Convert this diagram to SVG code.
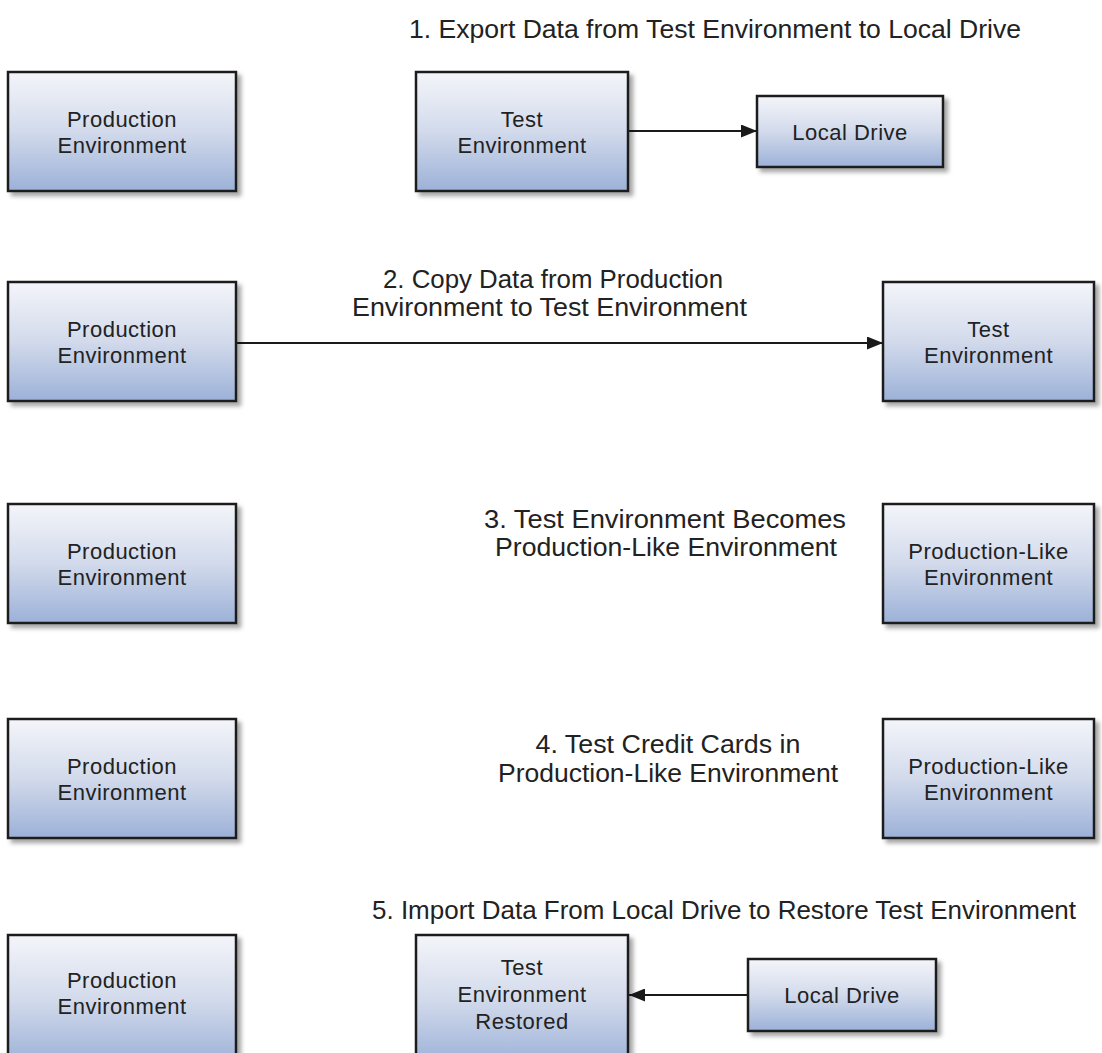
<svg xmlns="http://www.w3.org/2000/svg" width="1102" height="1053" viewBox="0 0 1102 1053">
<style>
.box{fill:url(#g);stroke:#1e1e1e;stroke-width:2.5;filter:url(#sh)}
.nt{font-family:"Liberation Sans",Arial,sans-serif;font-size:22px;fill:#222;text-anchor:middle;letter-spacing:0.5px}
.tt{font-family:"Liberation Sans",Arial,sans-serif;font-size:25px;fill:#222;text-anchor:middle}
.cn{stroke:#1a1a1a;stroke-width:2.2;fill:none}
</style>
<defs>
<linearGradient id="g" x1="0" y1="0" x2="0" y2="1">
<stop offset="0" stop-color="#f4f5fa"/>
<stop offset="0.5" stop-color="#d2daeb"/>
<stop offset="1" stop-color="#9cb1d8"/>
</linearGradient>
<filter id="sh" x="-10%" y="-10%" width="130%" height="130%">
<feDropShadow dx="4" dy="4" stdDeviation="2" flood-color="#000" flood-opacity="0.35"/>
</filter>
<marker id="ah" markerWidth="16" markerHeight="13" refX="16" refY="6.5" orient="auto" markerUnits="userSpaceOnUse">
<path d="M0,0 L16,6.5 L0,13 z" fill="#1a1a1a"/>
</marker>
</defs>
<rect width="1102" height="1053" fill="#fff"/>

<g id="labels">
<text class="tt" x="715" y="38" textLength="612" lengthAdjust="spacingAndGlyphs">1. Export Data from Test Environment to Local Drive</text>
<text class="tt" x="553" y="288" textLength="340" lengthAdjust="spacingAndGlyphs">2. Copy Data from Production</text>
<text class="tt" x="549.5" y="316" textLength="395" lengthAdjust="spacingAndGlyphs">Environment to Test Environment</text>
<text class="tt" x="665" y="528" textLength="362" lengthAdjust="spacingAndGlyphs">3. Test Environment Becomes</text>
<text class="tt" x="666" y="556" textLength="342" lengthAdjust="spacingAndGlyphs">Production-Like Environment</text>
<text class="tt" x="668" y="753" textLength="265" lengthAdjust="spacingAndGlyphs">4. Test Credit Cards in</text>
<text class="tt" x="668" y="782" textLength="340" lengthAdjust="spacingAndGlyphs">Production-Like Environment</text>
<text class="tt" x="724" y="919" textLength="704" lengthAdjust="spacingAndGlyphs">5. Import Data From Local Drive to Restore Test Environment</text>
</g>

<g id="connectors">
<line class="cn" x1="629" y1="131" x2="757" y2="131" marker-end="url(#ah)"/>
<line class="cn" x1="237" y1="343" x2="883" y2="343" marker-end="url(#ah)"/>
<line class="cn" x1="748" y1="995" x2="629" y2="995" marker-end="url(#ah)"/>
</g>

<g id="row1-production"><rect class="box" x="8" y="72" width="228" height="119"/><text class="nt" x="122" y="126.5">Production</text><text class="nt" x="122" y="152.5">Environment</text></g>
<g id="row1-test"><rect class="box" x="416" y="72" width="212" height="119"/><text class="nt" x="522" y="126.5">Test</text><text class="nt" x="522" y="152.5">Environment</text></g>
<g id="row1-local"><rect class="box" x="757" y="96" width="186" height="71"/><text class="nt" x="850" y="139.5">Local Drive</text></g>

<g id="row2-production"><rect class="box" x="8" y="282" width="228" height="119"/><text class="nt" x="122" y="336.5">Production</text><text class="nt" x="122" y="362.5">Environment</text></g>
<g id="row2-test"><rect class="box" x="883" y="282" width="211" height="119"/><text class="nt" x="988.5" y="336.5">Test</text><text class="nt" x="988.5" y="362.5">Environment</text></g>

<g id="row3-production"><rect class="box" x="8" y="504" width="228" height="119"/><text class="nt" x="122" y="558.5">Production</text><text class="nt" x="122" y="584.5">Environment</text></g>
<g id="row3-prodlike"><rect class="box" x="883" y="504" width="211" height="119"/><text class="nt" x="988.5" y="558.5">Production-Like</text><text class="nt" x="988.5" y="584.5">Environment</text></g>

<g id="row4-production"><rect class="box" x="8" y="719" width="228" height="119"/><text class="nt" x="122" y="773.5">Production</text><text class="nt" x="122" y="799.5">Environment</text></g>
<g id="row4-prodlike"><rect class="box" x="883" y="719" width="211" height="119"/><text class="nt" x="988.5" y="773.5">Production-Like</text><text class="nt" x="988.5" y="799.5">Environment</text></g>

<g id="row5-production"><rect class="box" x="8" y="935" width="228" height="130"/><text class="nt" x="122" y="988">Production</text><text class="nt" x="122" y="1014">Environment</text></g>
<g id="row5-test-restored"><rect class="box" x="416" y="935" width="212" height="130"/><text class="nt" x="522" y="975">Test</text><text class="nt" x="522" y="1002">Environment</text><text class="nt" x="522" y="1029">Restored</text></g>
<g id="row5-local"><rect class="box" x="748" y="959" width="188" height="72"/><text class="nt" x="842" y="1003">Local Drive</text></g>
</svg>
